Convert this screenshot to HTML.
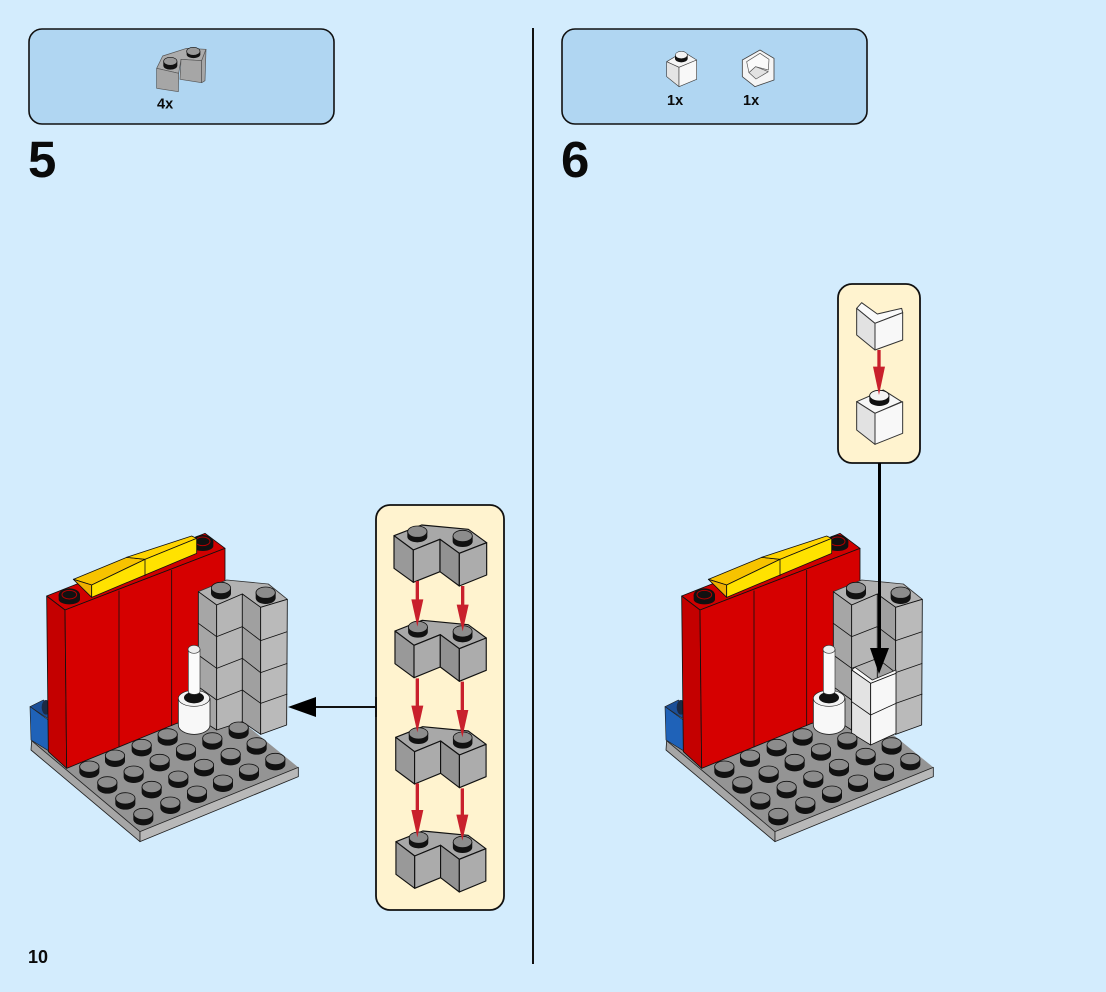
<!DOCTYPE html>
<html>
<head>
<meta charset="utf-8">
<style>
html,body{margin:0;padding:0;background:#d3ecfd;}
body{width:1106px;height:992px;overflow:hidden;}
svg{display:block;}
text{font-family:"Liberation Sans",sans-serif;font-weight:bold;fill:#0a0a0a;}
</style>
</head>
<body>
<svg width="1106" height="992" viewBox="0 0 1106 992" xmlns="http://www.w3.org/2000/svg">
<defs>
<g id="stud">
  <path d="M-30,-8 V8 A30,18 0 0 0 30,8 V-8 Z" fill="#111"/>
  <ellipse cx="0" cy="-8" rx="29" ry="17" fill="#8c8c8c" stroke="#111" stroke-width="2.5"/>
</g>
<g id="scene" stroke-linejoin="round">
  <!-- plate -->
  <polygon points="35,662 360,935 835,742 660,600 400,540" fill="#949494"/>
  <polygon points="35,662 33,690 360,965 360,935" fill="#a6a6a6" stroke="#222" stroke-width="2.5"/>
  <polygon points="360,935 360,965 835,770 835,742" fill="#b8b8b8" stroke="#222" stroke-width="2.5"/>
  <!-- blue -->
  <polygon points="30,560 70,540 90,560 90,600" fill="#1b4f98" stroke="#222" stroke-width="2"/>
  <ellipse cx="78" cy="562" rx="13" ry="22" fill="#1c2a44"/>
  <polygon points="30,560 85,600 85,692 33,660" fill="#1f62b8" stroke="#222" stroke-width="2"/>
  <!-- wall -->
  <polygon points="80,228 135,270 615,85 555,40" fill="#d00000" stroke="#111" stroke-width="2.5"/>
  <polygon points="80,228 135,270 140,745 85,695" fill="#c40000" stroke="#111" stroke-width="2.5"/>
  <polygon points="135,270 615,85 615,590 470,610 140,745" fill="#d60000" stroke="#111" stroke-width="2.5"/>
  <path d="M297,212 V682 M455,150 V618" stroke="#111" stroke-width="2.5" fill="none"/>
  <!-- wall studs -->
  <path d="M116,225 V238 A32,15 0 0 0 180,238 V225 Z" fill="#111"/>
  <ellipse cx="148" cy="225" rx="32" ry="20" fill="#111"/>
  <ellipse cx="148" cy="224" rx="22" ry="13" fill="#111" stroke="#b00000" stroke-width="3"/>
  <path d="M516,65 V78 A32,15 0 0 0 580,78 V65 Z" fill="#111"/>
  <ellipse cx="548" cy="65" rx="32" ry="20" fill="#111"/>
  <ellipse cx="548" cy="64" rx="22" ry="13" fill="#111" stroke="#b00000" stroke-width="3"/>
  <!-- yellow -->
  <polygon points="160,178 320,112 375,118 215,195" fill="#f7c300" stroke="#111" stroke-width="2.5"/>
  <polygon points="320,112 515,48 530,55 375,118" fill="#ffd400" stroke="#111" stroke-width="2.5"/>
  <polygon points="160,178 215,195 215,232" fill="#efb000" stroke="#111" stroke-width="2.5"/>
  <polygon points="215,195 375,118 530,55 530,100 215,232" fill="#ffe200" stroke="#111" stroke-width="2.5"/>
  <path d="M375,118 V168" stroke="#111" stroke-width="2.5" fill="none"/>
  <!-- gray column -->
  <polygon points="535,215 590,255 667,222 722,262 802,238 745,192 620,180" fill="#b2b2b2" stroke="#333" stroke-width="2.5"/>
  <polygon points="535,215 590,255 590,630 535,595" fill="#a6a6a6" stroke="#111" stroke-width="2.5"/>
  <polygon points="590,255 667,222 667,605 590,630" fill="#b6b6b6" stroke="#111" stroke-width="2.5"/>
  <polygon points="667,222 722,262 722,643 667,605" fill="#a0a0a0" stroke="#111" stroke-width="2.5"/>
  <polygon points="722,262 802,238 800,615 722,643" fill="#bababa" stroke="#111" stroke-width="2.5"/>
  <path d="M535,310 L590,350 L667,320 L722,362 L802,335 M535,405 L590,445 L667,415 L722,458 L802,430 M535,500 L590,540 L667,510 L722,550 L802,522" stroke="#111" stroke-width="2.5" fill="none"/>
  <use href="#stud" x="603" y="212"/>
  <use href="#stud" x="737" y="226"/>
  <!-- pin -->
  <path d="M475,535 V615 A47,28 0 0 0 570,615 V535 Z" fill="#f8f8f8" stroke="#222" stroke-width="2.5"/>
  <ellipse cx="522" cy="535" rx="47" ry="24" fill="#f3f3f3" stroke="#222" stroke-width="2"/>
  <ellipse cx="522" cy="533" rx="30" ry="17" fill="#111"/>
  <path d="M505,388 V515 A17,8 0 0 0 540,515 V388 Z" fill="#fbfbfb" stroke="#333" stroke-width="2"/>
  <ellipse cx="522" cy="388" rx="18" ry="12" fill="#eee" stroke="#333" stroke-width="2"/>
</g>
<g id="plateStudsCommon">
  <use href="#stud" x="208" y="748"/><use href="#stud" x="285" y="715"/><use href="#stud" x="365" y="683"/><use href="#stud" x="443" y="651"/>
  <use href="#stud" x="262" y="795"/><use href="#stud" x="341" y="763"/><use href="#stud" x="419" y="728"/><use href="#stud" x="498" y="696"/><use href="#stud" x="577" y="663"/>
  <use href="#stud" x="316" y="843"/><use href="#stud" x="395" y="809"/><use href="#stud" x="475" y="778"/><use href="#stud" x="552" y="743"/><use href="#stud" x="632" y="710"/><use href="#stud" x="710" y="678"/>
  <use href="#stud" x="370" y="890"/><use href="#stud" x="451" y="856"/><use href="#stud" x="531" y="823"/><use href="#stud" x="609" y="790"/><use href="#stud" x="687" y="757"/><use href="#stud" x="766" y="725"/>
</g>
<g id="brick" stroke-linejoin="round">
  <polygon points="72,107 130,150 210,118 268,160 350,128 295,88 155,75" fill="#a8a8a8" stroke="#111" stroke-width="3.5"/>
  <polygon points="72,107 130,150 130,247 72,205" fill="#999" stroke="#111" stroke-width="3.5"/>
  <polygon points="130,150 210,118 210,215 130,247" fill="#ababab" stroke="#111" stroke-width="3.5"/>
  <polygon points="210,118 268,160 268,258 210,215" fill="#929292" stroke="#111" stroke-width="3.5"/>
  <polygon points="268,160 350,128 350,225 268,258" fill="#acacac" stroke="#111" stroke-width="3.5"/>
  <path d="M112,95 V110 A30,17 0 0 0 172,110 V95 Z" fill="#111"/>
  <ellipse cx="142" cy="95" rx="29" ry="17" fill="#8c8c8c" stroke="#111" stroke-width="2.5"/>
  <path d="M248,108 V124 A30,17 0 0 0 308,124 V108 Z" fill="#111"/>
  <ellipse cx="278" cy="108" rx="29" ry="17" fill="#8c8c8c" stroke="#111" stroke-width="2.5"/>
</g>
</defs>

<rect width="1106" height="992" fill="#d3ecfd"/>

<!-- divider -->
<rect x="532" y="28" width="2" height="936" fill="#111"/>

<!-- top panels -->
<rect x="29" y="29" width="305" height="95" rx="13" fill="#b0d6f2" stroke="#111" stroke-width="1.6"/>
<rect x="562" y="29" width="305" height="95" rx="13" fill="#b0d6f2" stroke="#111" stroke-width="1.6"/>

<!-- 4x part -->
<g transform="translate(20,20) scale(.33333)" stroke-linejoin="round">
  <polygon points="410,145 428,108 500,85 558,88 545,122 483,118 476,160" fill="#acacac" stroke="#555" stroke-width="2"/>
  <polygon points="410,145 476,160 475,215 410,205" fill="#a6a6a6" stroke="#555" stroke-width="2"/>
  <polygon points="483,118 545,122 558,88 555,182 545,188 480,178" fill="#a6a6a6" stroke="#555" stroke-width="2"/>
  <path d="M545,122 V188" stroke="#444" stroke-width="2"/>
  <path d="M430,125 V137 A21,12 0 0 0 472,137 V125 Z" fill="#111"/>
  <ellipse cx="451" cy="124" rx="20" ry="12" fill="#999" stroke="#111" stroke-width="2"/>
  <path d="M500,95 V105 A21,12 0 0 0 541,105 V95 Z" fill="#111"/>
  <ellipse cx="520" cy="94" rx="20" ry="12" fill="#999" stroke="#111" stroke-width="2"/>
</g>
<text x="157" y="108.500" font-size="14.500">4x</text>

<!-- 1x parts -->
<g transform="translate(555,20) scale(.33333)" stroke-linejoin="round">
  <polygon points="335,125 385,95 425,120 372,142" fill="#f5f5f5" stroke="#444" stroke-width="2"/>
  <polygon points="335,125 372,142 372,200 335,170" fill="#e4e4e4" stroke="#444" stroke-width="2"/>
  <polygon points="372,142 425,120 425,178 372,200" fill="#f8f8f8" stroke="#444" stroke-width="2"/>
  <path d="M360,106 V116 A19,11 0 0 0 398,116 V106 Z" fill="#111"/>
  <ellipse cx="379" cy="105" rx="18" ry="11" fill="#f3f3f3" stroke="#111" stroke-width="1.5"/>
  <polygon points="562,120 615,90 657,115 657,180 600,200 562,170" fill="#f5f5f5" stroke="#444" stroke-width="2.5"/>
  <polygon points="575,125 615,100 642,118 640,150 602,140 582,158" fill="#fafafa" stroke="#555" stroke-width="2"/>
  <polygon points="582,158 602,140 640,155 603,177" fill="#e2e2e2" stroke="#555" stroke-width="2"/>
</g>
<text x="667" y="105" font-size="14.500">1x</text>
<text x="743" y="105" font-size="14.500">1x</text>

<!-- step numbers -->
<text x="28" y="177" font-size="51">5</text>
<text x="561" y="177" font-size="51">6</text>
<text x="28" y="963" font-size="18">10</text>

<!-- scene 5 -->
<g transform="translate(20,520) scale(.33333)">
  <use href="#scene"/>
  <use href="#stud" x="656" y="631"/>
  <use href="#plateStudsCommon"/>
</g>

<!-- scene 6 -->
<g transform="translate(655,520) scale(.33333)">
  <use href="#scene"/>
  <g stroke-linejoin="round">
    <polygon points="600,442 652,480 723,450 723,460 647,490 590,450" fill="#fafafa" stroke="#222" stroke-width="2.5"/>
    <polygon points="590,450 647,490 647,675 590,640" fill="#e3e3e3" stroke="#111" stroke-width="2.5"/>
    <polygon points="647,490 723,460 723,640 647,675" fill="#f7f7f7" stroke="#111" stroke-width="2.5"/>
    <path d="M590,545 L647,585 L723,550" stroke="#111" stroke-width="2.5" fill="none"/>
  </g>
  <use href="#plateStudsCommon"/>
</g>

<!-- arrow step 5 -->
<rect x="314" y="706" width="63" height="2" fill="#111"/>
<polygon points="288,707 316,697 316,717" fill="#000"/>

<!-- side panel step 5 -->
<rect x="376" y="505" width="128" height="405" rx="14" fill="#fff3cf" stroke="#111" stroke-width="1.8"/>
<rect x="375" y="697" width="2" height="20" fill="#111"/>
<g transform="translate(370,500) scale(.33333)">
  <use href="#brick"/>
  <use href="#brick" transform="translate(4,286) scale(.985,1)"/>
  <use href="#brick" transform="translate(7,605) scale(.975,1)"/>
  <use href="#brick" transform="translate(8,918) scale(.97,1)"/>
  <g stroke="#c9202c" stroke-width="10" fill="none">
    <path d="M142,243 V310 M278,258 V325 M142,535 V628 M277,545 V640 M142,850 V940 M277,865 V955"/>
  </g>
  <g fill="#c9202c">
    <polygon points="124,298 160,298 142,380"/>
    <polygon points="260,314 296,314 278,394"/>
    <polygon points="124,617 160,617 142,697"/>
    <polygon points="259,630 295,630 277,712"/>
    <polygon points="124,930 160,930 142,1012"/>
    <polygon points="259,944 295,944 277,1022"/>
  </g>
</g>

<!-- side panel step 6 -->
<rect x="838" y="284" width="82" height="179" rx="14" fill="#fff3cf" stroke="#111" stroke-width="1.8"/>
<g transform="translate(830,280) scale(.33333)" stroke-linejoin="round">
  <polygon points="80,85 95,68 142,102 215,85 218,98 135,130" fill="#fafafa" stroke="#333" stroke-width="3"/>
  <polygon points="80,85 135,130 135,210 80,165" fill="#e2e2e2" stroke="#333" stroke-width="3"/>
  <polygon points="135,130 218,98 218,180 135,210" fill="#f8f8f8" stroke="#333" stroke-width="3"/>
  <polygon points="80,365 160,330 215,365 135,400" fill="#f7f7f7" stroke="#333" stroke-width="3"/>
  <polygon points="80,365 135,400 135,493 80,450" fill="#e2e2e2" stroke="#333" stroke-width="3"/>
  <polygon points="135,400 218,365 218,460 135,493" fill="#f8f8f8" stroke="#333" stroke-width="3"/>
  <path d="M118,348 V362 A30,16 0 0 0 178,362 V348 Z" fill="#111"/>
  <ellipse cx="148" cy="347" rx="29" ry="16" fill="#f3f3f3" stroke="#111" stroke-width="2.5"/>
  <path d="M147,210 V270" stroke="#c9202c" stroke-width="10"/>
  <polygon points="129,260 165,260 147,345" fill="#c9202c"/>
</g>

<!-- arrow step 6 -->
<rect x="878" y="463" width="3" height="190" fill="#000"/>
<polygon points="870,648 889,648 879,674" fill="#000"/>
</svg>
</body>
</html>
